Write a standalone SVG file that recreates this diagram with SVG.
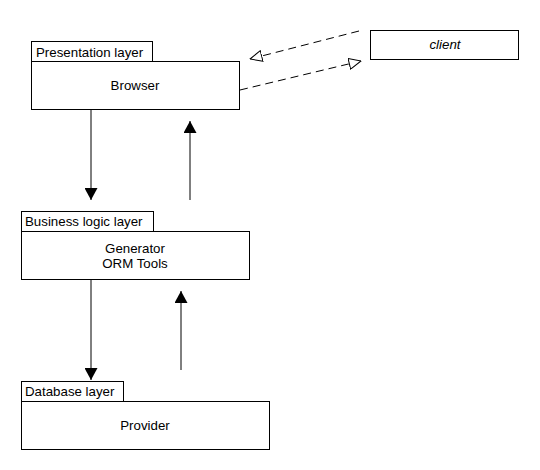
<svg xmlns="http://www.w3.org/2000/svg" width="540" height="470" viewBox="0 0 540 470">
<defs>
<style>
.box{fill:#fff;stroke:#000;stroke-width:1}
.t{font-family:"Liberation Sans",Arial,sans-serif;font-size:13.3px;fill:#000}
.c{text-anchor:middle}
.ln{stroke:#000;stroke-width:1;fill:none}
.dash{stroke:#000;stroke-width:1;fill:none;stroke-dasharray:8,5}
</style>
<marker id="solid" viewBox="0 0 12 13" refX="12" refY="6.5" markerWidth="12" markerHeight="13" markerUnits="userSpaceOnUse" orient="auto">
<path d="M0,0 L12,6.5 L0,13 Z" fill="#000"/>
</marker>
<marker id="hollow" viewBox="0 0 13 12" refX="12.5" refY="6" markerWidth="13" markerHeight="12" markerUnits="userSpaceOnUse" orient="auto">
<path d="M0.5,0.5 L12.5,6 L0.5,11.5 Z" fill="#fff" stroke="#000" stroke-width="1"/>
</marker>
</defs>
<rect width="540" height="470" fill="#fff"/>
<g id="presentation">
<rect class="box" x="31.5" y="41.5" width="121" height="20"/>
<rect class="box" x="31.5" y="61.5" width="208" height="48"/>
<text class="t" x="36" y="57">Presentation layer</text>
<text class="t c" x="135" y="90">Browser</text>
</g>
<g id="client">
<rect class="box" x="370.5" y="30.5" width="148" height="29"/>
<text class="t c" x="445" y="49" font-style="italic">client</text>
</g>
<g id="business">
<rect class="box" x="21.5" y="211.5" width="132" height="20"/>
<rect class="box" x="21.5" y="231.5" width="228" height="48"/>
<text class="t" x="25" y="226">Business logic layer</text>
<text class="t c" x="135" y="252.5">Generator</text>
<text class="t c" x="135" y="268">ORM Tools</text>
</g>
<g id="database">
<rect class="box" x="21.5" y="381.5" width="102" height="20"/>
<rect class="box" x="21.5" y="401.5" width="248" height="48"/>
<text class="t" x="25" y="396">Database layer</text>
<text class="t c" x="145" y="430">Provider</text>
</g>
<g id="connectors">
<line class="ln" x1="91" y1="110" x2="91" y2="200" marker-end="url(#solid)"/>
<line class="ln" x1="190" y1="200" x2="190" y2="121" marker-end="url(#solid)"/>
<line class="ln" x1="91" y1="280" x2="91" y2="380" marker-end="url(#solid)"/>
<line class="ln" x1="181" y1="370" x2="181" y2="291" marker-end="url(#solid)"/>
<line class="dash" x1="359" y1="31" x2="250" y2="59" marker-end="url(#hollow)"/>
<line class="dash" x1="240" y1="90" x2="361" y2="61" marker-end="url(#hollow)"/>
</g>
</svg>
